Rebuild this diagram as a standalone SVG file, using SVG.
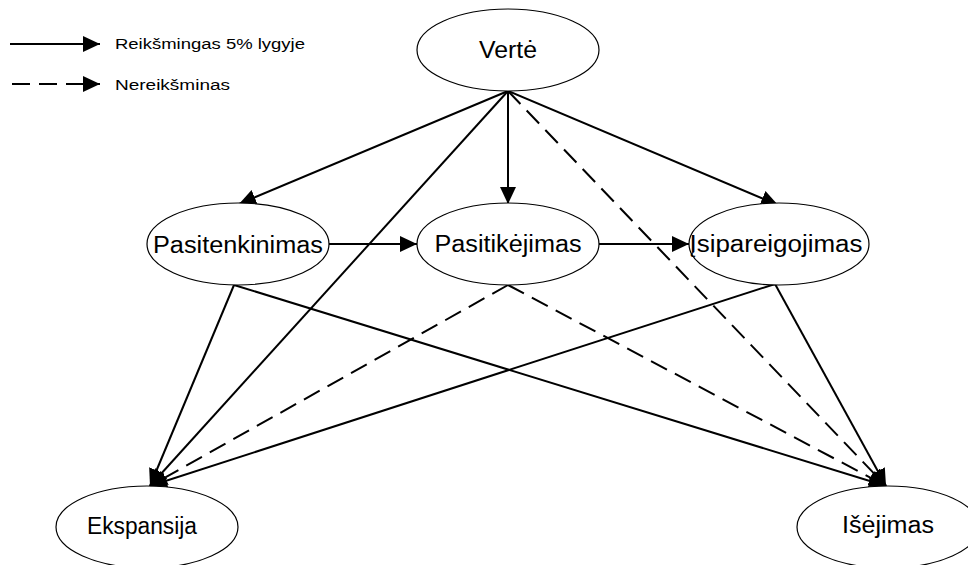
<svg xmlns="http://www.w3.org/2000/svg" width="968" height="565" viewBox="0 0 968 565">
  <style>
    .node ellipse { fill: #ffffff; stroke: #000000; stroke-width: 1.2; }
    .node text { font-family: "Liberation Sans", Arial, sans-serif; font-size: 23px; fill: #000000; }
    .legend text { font-family: "Liberation Sans", Arial, sans-serif; font-size: 15.5px; fill: #000000; }
    .solid { stroke: #000000; stroke-width: 2; fill: none; marker-end: url(#head); }
    .dashed { stroke: #000000; stroke-width: 2; fill: none; stroke-dasharray: 18 9; marker-end: url(#head); }
  </style>
  <defs>
    <marker id="head" markerUnits="userSpaceOnUse" markerWidth="18" markerHeight="16" refX="17" refY="8" orient="auto" viewBox="0 0 18 16">
      <path d="M0,0 L17,8 L0,16 z" fill="#000000"/>
    </marker>
  </defs>

  <!-- legend -->
  <g id="legend" class="legend">
    <line class="solid" x1="10" y1="44" x2="100" y2="44"/>
    <text x="115" y="49" textLength="190" lengthAdjust="spacingAndGlyphs">Reikšmingas 5% lygyje</text>
    <line class="dashed" x1="12" y1="84" x2="100" y2="84" stroke-dasharray="20 10"/>
    <text x="115" y="90" textLength="115" lengthAdjust="spacingAndGlyphs">Nereikšminas</text>
  </g>

  <!-- connectors -->
  <g id="connectors">
    <!-- from Vertė -->
    <line class="solid" x1="508" y1="91" x2="239" y2="204"/>
    <line class="solid" x1="508" y1="91" x2="508" y2="204"/>
    <line class="solid" x1="508" y1="91" x2="778" y2="205"/>
    <line class="solid" x1="508" y1="91" x2="150" y2="486"/>
    <line class="dashed" x1="508" y1="91" x2="886" y2="486"/>
    <!-- chain across the middle row -->
    <line class="solid" x1="329" y1="244" x2="417" y2="244"/>
    <line class="solid" x1="599" y1="244" x2="689" y2="244"/>
    <!-- from Pasitenkinimas -->
    <line class="solid" x1="234" y1="285" x2="150" y2="486"/>
    <line class="solid" x1="234" y1="285" x2="886" y2="486"/>
    <!-- from Pasitikėjimas -->
    <line class="dashed" x1="508" y1="285" x2="150" y2="486"/>
    <line class="dashed" x1="508" y1="285" x2="886" y2="486"/>
    <!-- from Įsipareigojimas -->
    <line class="solid" x1="775" y1="284" x2="150" y2="486"/>
    <line class="solid" x1="775" y1="284" x2="886" y2="486"/>
  </g>

  <!-- nodes -->
  <g id="verte" class="node">
    <ellipse cx="508" cy="50" rx="91" ry="41"/>
    <text x="508" y="58" text-anchor="middle" textLength="58" lengthAdjust="spacingAndGlyphs">Vertė</text>
  </g>
  <g id="pasitenkinimas" class="node">
    <ellipse cx="238" cy="244" rx="91" ry="41"/>
    <text x="238" y="253" text-anchor="middle" textLength="170" lengthAdjust="spacingAndGlyphs">Pasitenkinimas</text>
  </g>
  <g id="pasitikejimas" class="node">
    <ellipse cx="508" cy="244" rx="91" ry="41"/>
    <text x="508" y="252" text-anchor="middle" textLength="147" lengthAdjust="spacingAndGlyphs">Pasitikėjimas</text>
  </g>
  <g id="isipareigojimas" class="node">
    <ellipse cx="779" cy="244" rx="90" ry="41"/>
    <text x="776" y="252" text-anchor="middle" textLength="173" lengthAdjust="spacingAndGlyphs">Įsipareigojimas</text>
  </g>
  <g id="ekspansija" class="node">
    <ellipse cx="147" cy="527" rx="91" ry="41"/>
    <text x="142" y="534" text-anchor="middle" textLength="110" lengthAdjust="spacingAndGlyphs">Ekspansija</text>
  </g>
  <g id="isejimas" class="node">
    <ellipse cx="888" cy="527" rx="91" ry="41"/>
    <text x="888" y="533" text-anchor="middle" textLength="92" lengthAdjust="spacingAndGlyphs">Išėjimas</text>
  </g>
</svg>
